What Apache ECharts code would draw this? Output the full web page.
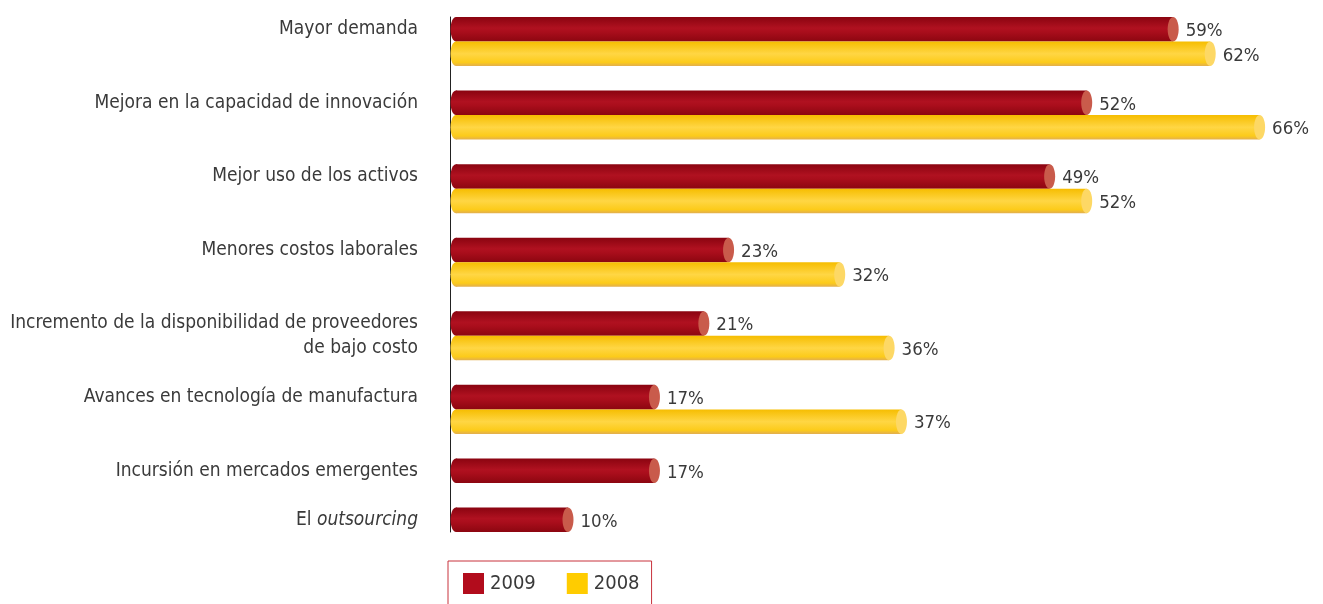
<!DOCTYPE html>
<html>
<head>
<meta charset="utf-8">
<script src="https://cdn.jsdelivr.net/npm/echarts@6/dist/echarts.min.js"></script>
<style>
  html, body { margin: 0; padding: 0; background: #ffffff; }
  #chart { width: 1323px; height: 604px; }
</style>
</head>
<body>
<div id="chart"></div>
<script>
// Factors named by respondents (share of companies, %)
const categories = [
  'Mayor demanda',
  'Mejora en la capacidad de innovación',
  'Mejor uso de los activos',
  'Menores costos laborales',
  'Incremento de la disponibilidad de proveedores\nde bajo costo',
  'Avances en tecnología de manufactura',
  'Incursión en mercados emergentes',
  'El {i|outsourcing}'
];
const values2009 = [59, 52, 49, 23, 21, 17, 17, 10];
const values2008 = [62, 66, 52, 32, 36, 37, null, null];
const seriesNames = ['2009', '2008'];

const FONT = "'DejaVu Sans Condensed', 'DejaVu Sans', sans-serif";
const TEXT = '#3a3a3a';

// Each category occupies a row of bands on the category axis:
// one band for 2009, one for 2008 (when present) and one spacer band.
const bandLabels = [];
const rows2009 = [];
const rows2008 = [];
categories.forEach(function (cat, i) {
  const lines = cat.split('\n');
  const start = bandLabels.length;
  rows2009.push([values2009[i], start]);
  bandLabels.push(lines[0]);
  if (values2008[i] != null) {
    rows2008.push([values2008[i], bandLabels.length]);
    bandLabels.push(lines[1] || '');
  } else if (lines[1]) {
    bandLabels.push(lines[1]);
  }
  if (i < categories.length - 1) bandLabels.push('');
});

// Draws a horizontal cylinder: rounded body with shaded gradient and a flat end cap
function cylinder(body, cap) {
  return function (params, api) {
    const v = api.value(0);
    const band = api.value(1);
    const p0 = api.coord([0, band]);
    const p1 = api.coord([v, band]);
    const h = api.size([0, 1])[1];
    const ry = h / 2;
    const rx = 5.5;
    const cy = p0[1];
    return {
      type: 'group',
      children: [
        {
          type: 'ellipse',
          shape: { cx: p0[0] + rx + 0.5, cy: cy, rx: rx, ry: ry },
          style: { fill: body }
        },
        {
          type: 'rect',
          shape: { x: p0[0] + rx + 0.5, y: cy - ry, width: Math.max(0, p1[0] - p0[0] - 2 * rx - 0.5), height: h },
          style: { fill: body }
        },
        {
          type: 'ellipse',
          shape: { cx: p1[0] - rx, cy: cy, rx: rx, ry: ry },
          style: { fill: cap }
        },
        {
          type: 'text',
          style: {
            text: v + '%',
            x: p1[0] + 7,
            y: cy + 2,
            verticalAlign: 'middle',
            align: 'left',
            font: '18.5px ' + FONT,
            fill: TEXT
          }
        }
      ]
    };
  };
}

const redBody = new echarts.graphic.LinearGradient(0, 0, 0, 1, [
  { offset: 0, color: '#8a0410' },
  { offset: 0.45, color: '#b01120' },
  { offset: 0.6, color: '#aa0e1c' },
  { offset: 1, color: '#8c0610' }
]);
const yellowBody = new echarts.graphic.LinearGradient(0, 0, 0, 1, [
  { offset: 0, color: '#f6bd00' },
  { offset: 0.5, color: '#ffd644' },
  { offset: 0.85, color: '#fccb1a' },
  { offset: 1, color: '#e2ae4e' }
]);

const chart = echarts.init(document.getElementById('chart'));
chart.setOption({
  animation: false,
  backgroundColor: '#ffffff',
  grid: { left: 450, right: 8.5, top: 17, bottom: 72, containLabel: false, outerBoundsMode: 'none' },
  xAxis: {
    type: 'value',
    min: 0,
    max: 70,
    show: false
  },
  yAxis: {
    type: 'category',
    inverse: true,
    data: bandLabels,
    axisLine: { show: true, lineStyle: { color: '#222222', width: 1 } },
    axisTick: { show: false },
    splitLine: { show: false },
    axisLabel: {
      interval: 0,
      margin: 32,
      fontFamily: FONT,
      fontSize: 19,
      color: TEXT,
      rich: {
        i: { fontFamily: FONT, fontSize: 19, fontStyle: 'italic', color: TEXT }
      }
    }
  },
  legend: {
    left: 448,
    top: 561,
    orient: 'horizontal',
    padding: [12, 12, 12, 15],
    borderColor: '#c8323c',
    borderWidth: 1,
    itemWidth: 21,
    itemHeight: 21,
    itemGap: 31,
    icon: 'rect',
    textStyle: { fontFamily: FONT, fontSize: 20, color: TEXT, padding: [2, 0, 0, 1] },
    data: [
      { name: seriesNames[0], itemStyle: { color: '#b20c1c' } },
      { name: seriesNames[1], itemStyle: { color: '#ffcc00' } }
    ]
  },
  series: [
    {
      name: seriesNames[0],
      type: 'custom',
      itemStyle: { color: '#b20c1c' },
      encode: { x: 0, y: 1 },
      renderItem: cylinder(redBody, '#c95b4b'),
      data: rows2009
    },
    {
      name: seriesNames[1],
      type: 'custom',
      itemStyle: { color: '#ffcc00' },
      encode: { x: 0, y: 1 },
      renderItem: cylinder(yellowBody, '#fdd865'),
      data: rows2008
    }
  ]
});
</script>
</body>
</html>
